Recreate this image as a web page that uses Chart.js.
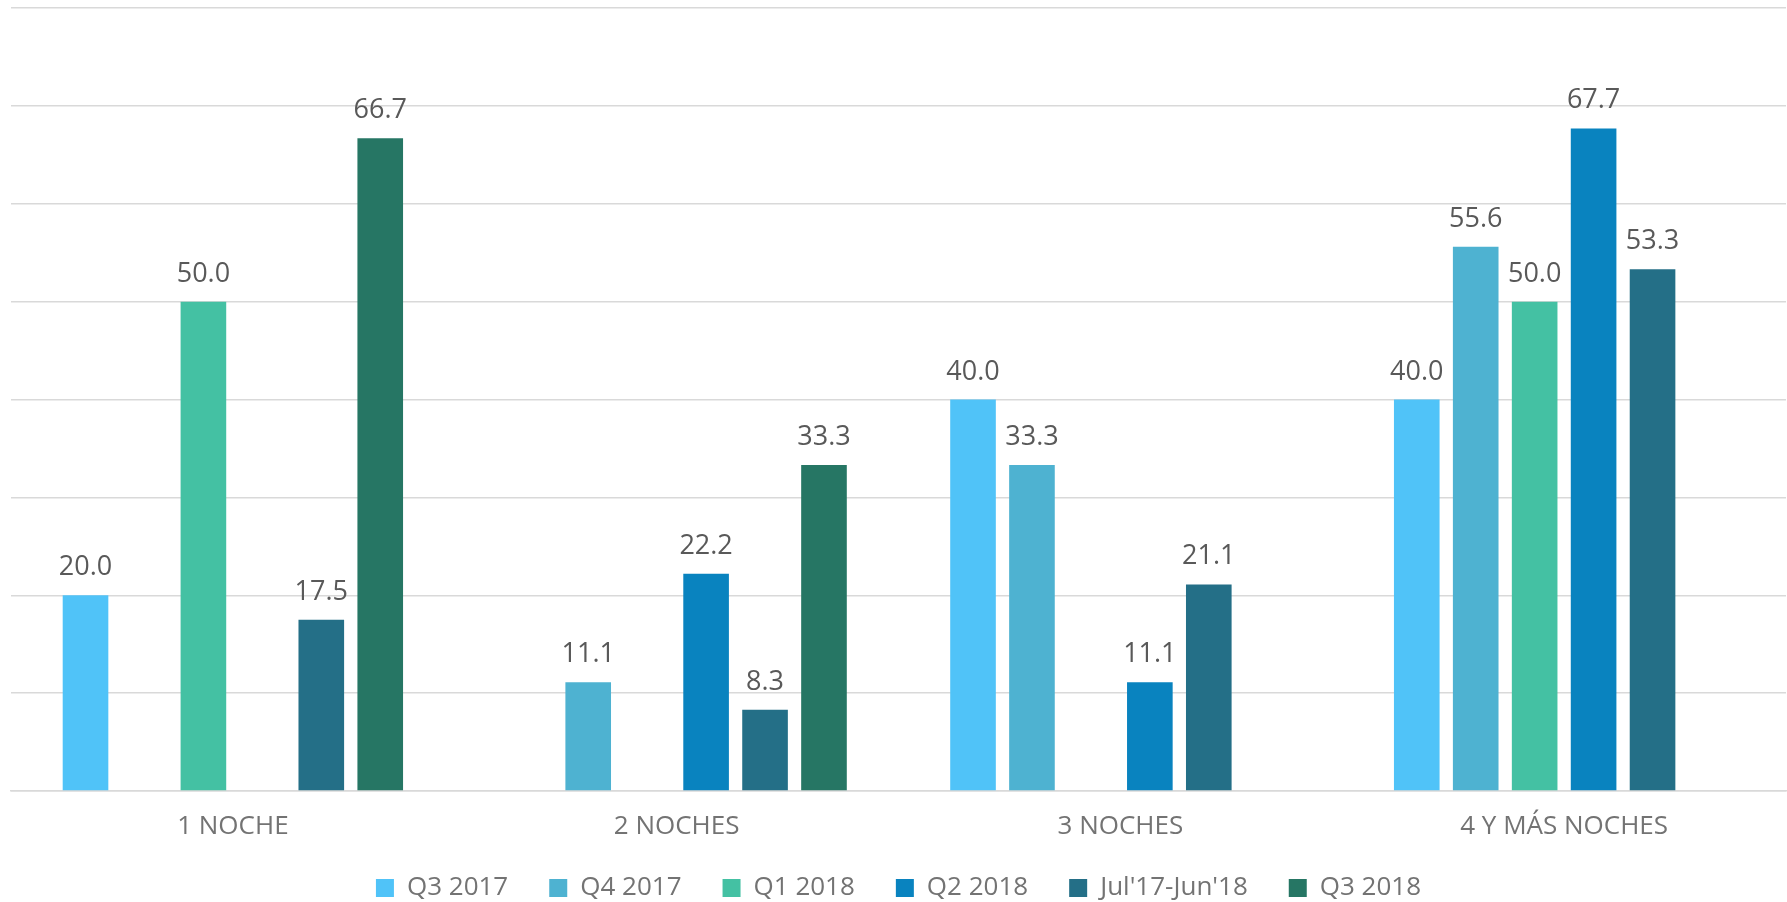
<!DOCTYPE html>
<html>
<head>
<meta charset="utf-8">
<script src="https://cdn.jsdelivr.net/npm/chart.js@4"></script>
<style>
  body { margin: 0; background: #fff; }
  #wrap { width: 1787px; height: 902px; }
</style>
</head>
<body>
<div id="wrap"><canvas id="nightsChart"></canvas></div>
<script>
const categories = ['1 NOCHE', '2 NOCHES', '3 NOCHES', '4 Y MÁS NOCHES'];
const seriesNames = ['Q3 2017', 'Q4 2017', 'Q1 2018', 'Q2 2018', "Jul'17-Jun'18", 'Q3 2018'];
const q3_2017 = [20.0, null, 40.0, 40.0];
const q4_2017 = [null, 11.1, 33.3, 55.6];
const q1_2018 = [50.0, null, null, 50.0];
const q2_2018 = [null, 22.2, 11.1, 67.7];
const jul17_jun18 = [17.5, 8.3, 21.1, 53.3];
const q3_2018 = [66.7, 33.3, null, null];
const colors = ['#50C3F8', '#4EB2D1', '#44C1A3', '#0983BF', '#246F87', '#267664'];

const allSeries = [q3_2017, q4_2017, q1_2018, q2_2018, jul17_jun18, q3_2018];

// simple value labels above the bars
const barLabels = {
    id: 'barLabels',
    afterDatasetsDraw(chart) {
        const ctx = chart.ctx;
        ctx.save();
        ctx.font = '27px "Open Sans"';
        ctx.fillStyle = '#595959';
        ctx.textAlign = 'center';
        ctx.textBaseline = 'alphabetic';
        chart.data.datasets.forEach((ds, i) => {
            chart.getDatasetMeta(i).data.forEach((bar, j) => {
                const v = ds.data[j];
                if (v === null) return;
                ctx.fillText(v.toFixed(1), bar.x, bar.y - 20);
            });
        });
        ctx.restore();
    }
};

const ctx = document.getElementById('nightsChart').getContext('2d');
const nightsChart = new Chart(ctx, {
    type: 'bar',
    data: {
        labels: categories,
        datasets: allSeries.map((d, i) => ({
            label: seriesNames[i],
            data: d,
            backgroundColor: colors[i],
            categoryPercentage: 0.797,
            barPercentage: 0.774
        }))
    },
    options: {
        responsive: true,
        maintainAspectRatio: false,
        animation: false,
        layout: {
            padding: { left: 11, right: 1, top: 8, bottom: -9 }
        },
        scales: {
            y: {
                min: 0,
                max: 80,
                ticks: { display: false, stepSize: 10 },
                grid: { color: '#d9d9d9', lineWidth: 1.5, drawTicks: false },
                border: { display: false }
            },
            x: {
                grid: { display: false, drawTicks: false },
                border: { color: '#d9d9d9', width: 1.5 },
                ticks: {
                    padding: 20,
                    color: '#737373',
                    font: { family: 'Open Sans', size: 26 }
                },
                afterFit(scale) {
                    scale.height = 43;
                }
            }
        },
        plugins: {
            legend: {
                position: 'bottom',
                labels: {
                    color: '#737373',
                    font: { family: 'Open Sans', size: 26 },
                    boxWidth: 18,
                    boxHeight: 18,
                    padding: 41
                }
            },
            tooltip: { enabled: false }
        }
    },
    plugins: [barLabels]
});
</script>
</body>
</html>
